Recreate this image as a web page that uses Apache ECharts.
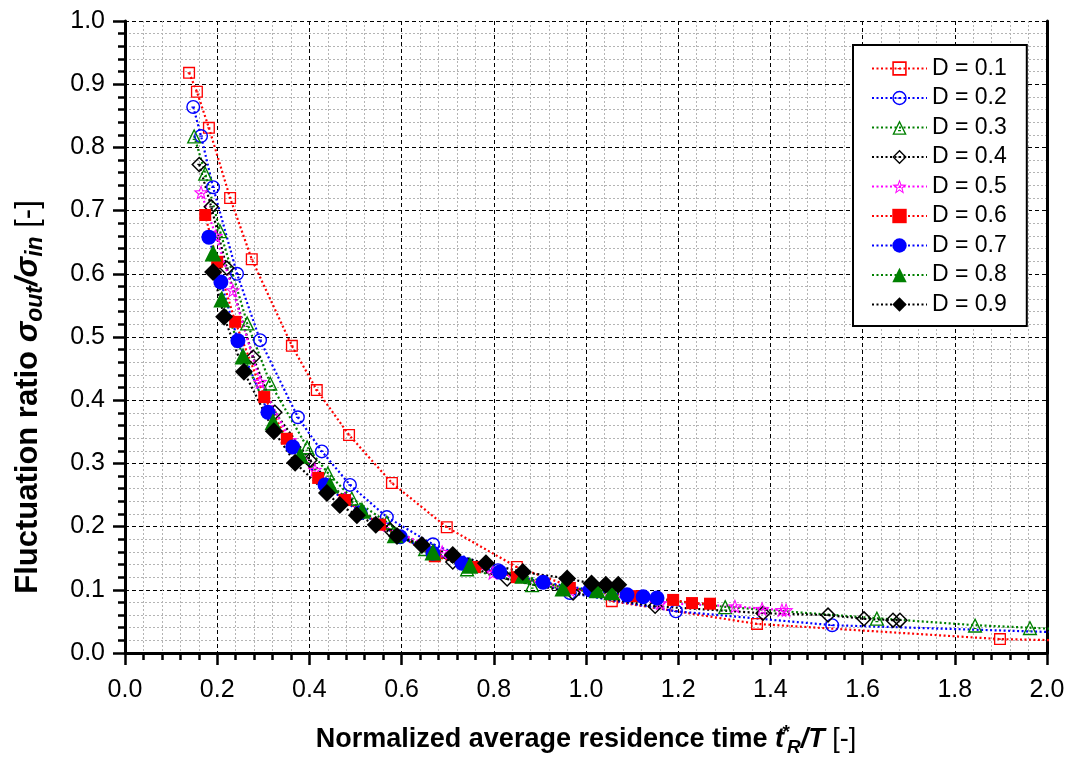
<!DOCTYPE html>
<html><head><meta charset="utf-8">
<script src="https://cdn.jsdelivr.net/npm/echarts@6/dist/echarts.min.js"></script>
<style>html,body{margin:0;padding:0;background:#fff;overflow:hidden}#c{width:1070px;height:760px}</style>
</head><body><div id="c"></div>
<script>
// ---- data ----
const seriesNames = ['D = 0.1','D = 0.2','D = 0.3','D = 0.4','D = 0.5','D = 0.6','D = 0.7','D = 0.8','D = 0.9'];
const x1 = [0.139,0.156,0.182,0.228,0.275,0.362,0.416,0.486,0.579,0.698,0.850,1.056,1.371,1.898,2.10];
const y1 = [0.918,0.888,0.831,0.720,0.623,0.486,0.416,0.345,0.269,0.199,0.136,0.082,0.046,0.022,0.019];
const x2 = [0.148,0.165,0.191,0.243,0.293,0.375,0.427,0.488,0.568,0.668,0.809,0.965,1.195,1.534,2.10];
const y2 = [0.864,0.818,0.737,0.600,0.495,0.373,0.319,0.266,0.215,0.172,0.131,0.095,0.066,0.044,0.031];
const x3 = [0.150,0.174,0.206,0.265,0.315,0.395,0.440,0.492,0.568,0.651,0.742,0.883,1.302,1.631,1.844,1.963,2.10];
const y3 = [0.818,0.759,0.668,0.522,0.427,0.326,0.285,0.245,0.207,0.165,0.133,0.108,0.073,0.055,0.044,0.040,0.035];
const x4 = [0.161,0.187,0.221,0.278,0.325,0.401,0.477,0.575,0.711,0.829,0.972,1.150,1.384,1.525,1.603,1.666,1.681];
const y4 = [0.773,0.706,0.609,0.468,0.381,0.305,0.242,0.195,0.144,0.117,0.095,0.074,0.063,0.060,0.054,0.052,0.052];
const x5 = [0.165,0.197,0.234,0.293,0.358,0.412,0.477,0.553,0.688,0.798,0.965,1.161,1.323,1.382,1.425,1.434];
const y5 = [0.729,0.660,0.574,0.429,0.337,0.290,0.244,0.203,0.160,0.127,0.100,0.079,0.074,0.070,0.068,0.068];
const x6 = [0.174,0.200,0.239,0.302,0.351,0.419,0.477,0.553,0.672,0.759,0.850,0.965,1.104,1.189,1.230,1.269];
const y6 = [0.693,0.619,0.524,0.405,0.339,0.277,0.242,0.203,0.153,0.136,0.120,0.103,0.090,0.084,0.079,0.078];
const x7 = [0.182,0.208,0.245,0.310,0.364,0.434,0.510,0.597,0.668,0.731,0.813,0.907,1.009,1.089,1.124,1.154];
const y7 = [0.658,0.587,0.494,0.381,0.326,0.266,0.222,0.184,0.158,0.142,0.128,0.112,0.100,0.092,0.089,0.087];
const x8 = [0.191,0.210,0.256,0.321,0.380,0.445,0.514,0.586,0.668,0.748,0.863,0.950,1.024,1.056];
const y8 = [0.633,0.560,0.470,0.366,0.313,0.266,0.226,0.187,0.160,0.139,0.123,0.103,0.100,0.097];
const x9 = [0.191,0.215,0.258,0.323,0.369,0.438,0.466,0.503,0.544,0.590,0.644,0.711,0.783,0.863,0.959,1.012,1.043,1.070];
const y9 = [0.603,0.532,0.445,0.351,0.301,0.253,0.234,0.218,0.203,0.185,0.171,0.155,0.142,0.128,0.118,0.110,0.108,0.108];
const xTickLabels = ['0.0','0.2','0.4','0.6','0.8','1.0','1.2','1.4','1.6','1.8','2.0'];
const yTickLabels = ['0.0','0.1','0.2','0.3','0.4','0.5','0.6','0.7','0.8','0.9','1.0'];

// ---- marker shapes ----
const DASH = 'M37,46 L63,46 L63,55 L37,55 Z';
const openSquare = 'path://M0,0 L100,0 L100,100 L0,100 Z M11,11 L11,89 L89,89 L89,11 Z ' + DASH;
const openCircle = 'path://M50,0 A50,50 0 1 1 50,100 A50,50 0 1 1 50,0 Z M50,10 A40,40 0 1 0 50,90 A40,40 0 1 0 50,10 Z ' + DASH;
const openTriangle = 'path://M50,0 L100,100 L0,100 Z M50,20 L15,91 L85,91 Z M40,68 L60,68 L60,76 L40,76 Z';
const openDiamond = 'path://M50,0 L100,50 L50,100 L0,50 Z M50,13 L13,50 L50,87 L87,50 Z M38,46 L62,46 L62,54 L38,54 Z';
function starPath() {
  const pts = (R, r) => { const a = []; for (let i = 0; i < 10; i++) { const rad = i % 2 ? r : R; const ang = -Math.PI / 2 + i * Math.PI / 5; a.push([50 + rad * Math.cos(ang), 50 + rad * Math.sin(ang)]); } return a; };
  const o = pts(50, 21), inn = pts(33, 12).reverse();
  const f = (a) => 'M' + a.map(p => p[0].toFixed(2) + ',' + p[1].toFixed(2)).join(' L') + ' Z';
  return 'path://' + f(o) + ' ' + f(inn) + ' M42,47 L58,47 L58,55 L42,55 Z';
}
const openStar = starPath();

const xs = [x1,x2,x3,x4,x5,x6,x7,x8,x9], ys = [y1,y2,y3,y4,y5,y6,y7,y8,y9];
const colors = ['#ff0000','#0000ff','#008000','#000000','#ff00ff','#ff0000','#0000ff','#008000','#000000'];
const symbols = [openSquare, openCircle, openTriangle, openDiamond, openStar, 'rect', 'circle', 'triangle', 'diamond'];
const sizes = [12, 14, 15, 16, 15, 12, 15, 17, 18];

const series = seriesNames.map((n, i) => ({
  name: n, type: 'line', data: xs[i].map((v, k) => [v, ys[i][k]]),
  symbol: symbols[i], symbolSize: sizes[i], showAllSymbol: true, clip: true,
  itemStyle: { color: colors[i], borderWidth: 0 },
  lineStyle: { color: colors[i], width: 2.2, type: [2, 2.5] },
  emphasis: { disabled: true }, animation: false
}));

const SANS = '"Liberation Sans",Arial,sans-serif';
const axisCommon = {
  axisLine: { show: true, onZero: false, lineStyle: { color: '#000', width: 3 } },
  axisTick: { show: true, inside: false, length: 12, lineStyle: { color: '#000', width: 2.5 } },
  minorTick: { show: true, splitNumber: 5, length: 7, lineStyle: { color: '#000', width: 2.5 } },
  splitLine: { show: true, lineStyle: { color: '#000', width: 1, type: [4, 3] } },
  minorSplitLine: { show: true, lineStyle: { color: '#b4b4b4', width: 1, type: [2, 2] } }
};
const main = { fontFamily: SANS, fontWeight: 'bold', fontSize: 27, lineHeight: 34, verticalAlign: 'middle', color: '#000' };
const subS = { fontFamily: SANS, fontWeight: 'bold', fontStyle: 'italic', fontSize: 19, lineHeight: 15, verticalAlign: 'bottom', color: '#000' };
const mainY = Object.assign({}, main, { fontSize: 31, lineHeight: 38 });
const subY = Object.assign({}, subS, { fontSize: 23, lineHeight: 17 });
const option = {
  backgroundColor: '#fff',
  animation: false,
  grid: { left: 125, top: 21, width: 922, height: 632, containLabel: false, outerBoundsMode: 'none' },
  xAxis: Object.assign({}, axisCommon, {
    type: 'value', min: 0, max: 2, interval: 0.2,
    axisLabel: { margin: 25, fontFamily: SANS, fontSize: 25, color: '#000', formatter: (v) => xTickLabels[Math.round(v / 0.2)] },
    name: '{b|Normalized average residence time }{ti|t}{sup|*}{sub|R}{ti|/T}{n| [-]}',
    nameLocation: 'middle', nameGap: 70,
    nameTextStyle: { rich: {
      b: main,
      ti: Object.assign({}, main, { fontStyle: 'italic' }),
      sup: { fontFamily: SANS, fontWeight: 'bold', fontStyle: 'italic', fontSize: 19, lineHeight: 18, verticalAlign: 'top', width: 3, color: '#000' },
      sub: subS,
      n: Object.assign({}, main, { fontWeight: 'normal' })
    } }
  }),
  yAxis: [Object.assign({}, axisCommon, {
    type: 'value', min: 0, max: 1, interval: 0.1,
    axisLabel: { margin: 20, fontFamily: SANS, fontSize: 25, color: '#000', formatter: (v) => yTickLabels[Math.round(v / 0.1)] },
    name: '{b|Fluctuation ratio }{si|σ}{sub|out}{si|/σ}{sub|in}{n| [-]}',
    nameLocation: 'middle', nameGap: 78, nameRotate: 90,
    nameTextStyle: { padding: [0, 120, 0, 0], rich: {
      b: mainY,
      si: Object.assign({}, mainY, { fontStyle: 'italic' }),
      sub: subY,
      n: Object.assign({}, mainY, { fontWeight: 'normal' })
    } }
  }), {
    type: 'value', min: 0, max: 1, position: 'right',
    axisLine: { show: true, onZero: false, lineStyle: { color: '#000', width: 3 } },
    axisTick: { show: false }, axisLabel: { show: false }, splitLine: { show: false }
  }],
  legend: {
    orient: 'vertical', left: 853, top: 45,
    data: seriesNames,
    itemWidth: 55, itemHeight: 18, itemGap: 6.5,
    padding: [12, 20, 10, 18],
    backgroundColor: '#fff', borderColor: '#000', borderWidth: 2,
    textStyle: { fontFamily: SANS, fontSize: 23, color: '#000', lineHeight: 23 },
    selectedMode: false
  },
  series: series
};
const chart = echarts.init(document.getElementById('c'), null, { renderer: 'canvas', width: 1070, height: 760 });
chart.setOption(option);
</script></body></html>
